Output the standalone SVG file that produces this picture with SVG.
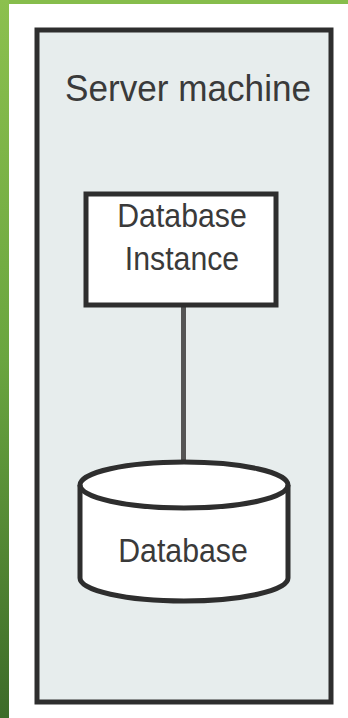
<svg xmlns="http://www.w3.org/2000/svg" width="348" height="718" viewBox="0 0 348 718">
  <defs>
    <linearGradient id="g" x1="0" y1="0" x2="0" y2="1">
      <stop offset="0" stop-color="#8cc04e"/>
      <stop offset="0.5" stop-color="#6aa53f"/>
      <stop offset="1" stop-color="#3d6b29"/>
    </linearGradient>
    <style>
      .lbl{font-family:"Liberation Sans",Arial,sans-serif;fill:#3a3a3a;text-anchor:middle}
      .shape{fill:#ffffff;stroke:#2e2e2e;stroke-width:5}
    </style>
  </defs>
  <rect width="348" height="718" fill="#ffffff"/>
  <rect x="0" y="0" width="348" height="4" fill="#86bd4c"/>
  <rect x="0" y="0" width="9" height="718" fill="url(#g)"/>

  <g id="server">
    <rect x="37" y="30" width="294" height="672" fill="#e7eded" stroke="#2e2e2e" stroke-width="5"/>
    <text class="lbl" transform="translate(188,101) scale(0.95,1)" font-size="37">Server machine</text>
  </g>

  <g id="connectors">
    <line x1="183.5" y1="307" x2="183.5" y2="462" stroke="#555" stroke-width="5"/>
  </g>

  <g id="instance">
    <rect class="shape" x="86" y="194" width="190" height="111"/>
    <text class="lbl" transform="translate(182,227) scale(0.89,1)" font-size="34">Database</text>
    <text class="lbl" transform="translate(182,270) scale(0.89,1)" font-size="34">Instance</text>
  </g>

  <g id="database">
    <path class="shape" d="M80,485 A104,23 0 0 1 288,485 L288,578 A104,23 0 0 1 80,578 Z"/>
    <path d="M80,485 A104,23 0 0 0 288,485" fill="none" stroke="#2e2e2e" stroke-width="5"/>
    <text class="lbl" transform="translate(183,562) scale(0.89,1)" font-size="34">Database</text>
  </g>
</svg>
